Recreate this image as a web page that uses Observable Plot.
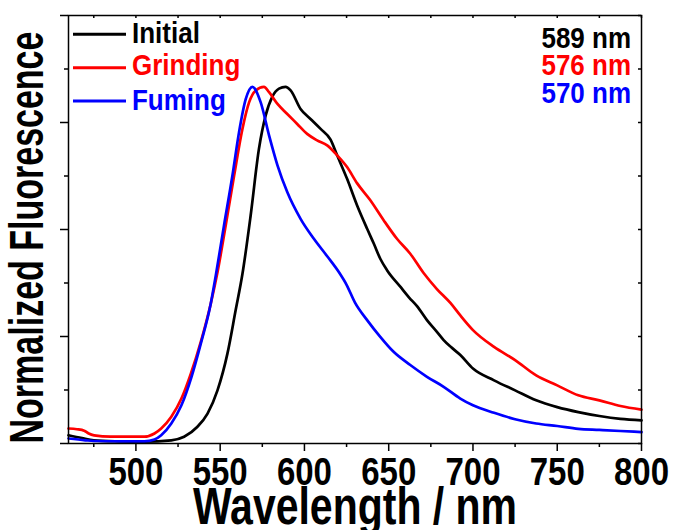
<!DOCTYPE html>
<html><head><meta charset="utf-8">
<script src="https://cdn.jsdelivr.net/npm/d3@7"></script>
<script src="https://cdn.jsdelivr.net/npm/@observablehq/plot@0.6"></script>
<style>body{margin:0;background:#fff}#chart{width:673px;height:530px}</style>
</head><body><div id="chart"></div>
<script>
const initialX = [460,468,475,490,505,521,528.6,536.5,542.5,548.4,554.3,559.2,563.2,568.1,573,577,580.9,584.9,588.8,591.8,597.7,603.6,609.6,615.5,619.4,625.3,631.2,637.2,641.2,645,649,657,662,666.8,672.7,678.6,682.6,686.8,692.5,700,712.5,725,737.5,750,762.5,775,787.5,800];
const initialY = [0.023,0.015,0.009,0.006,0.005,0.009,0.019,0.047,0.084,0.149,0.252,0.374,0.475,0.640,0.826,0.920,0.972,0.995,1.0,0.99,0.938,0.91,0.882,0.852,0.808,0.742,0.668,0.602,0.560,0.518,0.486,0.439,0.41,0.385,0.346,0.313,0.290,0.271,0.248,0.210,0.177,0.149,0.121,0.102,0.088,0.077,0.069,0.065];
const grindingX = [460,465,469.3,472,475.2,485,505,511,515,521,527,532.6,538.5,544.4,548.4,553.3,558.3,563.2,567.2,571.1,576,579,584,589.8,595.7,601.6,607.5,613.5,619.4,625.3,631.2,639.1,647,654.9,662.8,670.7,678.6,686.6,692.5,700,712.5,725,737.5,750,762.5,775,787.5,800];
const grindingY = [0.042,0.040,0.036,0.028,0.023,0.019,0.019,0.028,0.042,0.075,0.126,0.196,0.285,0.392,0.480,0.612,0.752,0.882,0.957,0.99,1.0,0.985,0.952,0.924,0.896,0.868,0.850,0.836,0.808,0.775,0.730,0.682,0.626,0.574,0.532,0.478,0.433,0.394,0.359,0.318,0.271,0.234,0.191,0.163,0.135,0.121,0.105,0.095];
const fumingX = [460,470,475,490,505,511,515,521,527,533,538.5,544.4,547.4,552.3,557.3,561.2,565.2,569.1,574,579,584,589.8,597.7,605.6,613.5,620.5,625,630,637.2,645,652.9,662.8,672.7,682.6,692.5,700,712.5,725,737.5,750,762.5,775,787.5,800];
const fumingY = [0.014,0.009,0.007,0.006,0.006,0.011,0.023,0.056,0.107,0.187,0.28,0.392,0.471,0.612,0.752,0.873,0.966,1.0,0.957,0.864,0.780,0.705,0.630,0.574,0.525,0.48,0.445,0.395,0.346,0.299,0.257,0.220,0.187,0.159,0.126,0.107,0.086,0.068,0.056,0.049,0.041,0.038,0.035,0.032];

const seriesNames = ["Initial", "Grinding", "Fuming"];
const seriesColors = ["#000000", "#ff0000", "#0000ff"];
const peakLabels = ["589 nm", "576 nm", "570 nm"];
const majorXTicks = [500, 550, 600, 650, 700, 750, 800];
const minorXTicks = [475, 525, 575, 625, 675, 725, 775];
const majorYTicks = [0, 0.3, 0.6, 0.9, 1.2];
const minorYTicks = [0.15, 0.45, 0.75, 1.05];

const seriesXs = [initialX, grindingX, fumingX];
const seriesYs = [initialY, grindingY, fumingY];
const rows = [];
seriesNames.forEach((name, i) => {
  seriesXs[i].forEach((x, j) => rows.push({series: name, x, y: seriesYs[i][j]}));
});

const font = '"Liberation Sans", Arial, sans-serif';
const W = 673, H = 530, ML = 68, MR = 32, MT = 15, MB = 87;
const frameW = W - ML - MR, frameH = H - MT - MB;

const plot = Plot.plot({
  width: W, height: H,
  marginLeft: ML, marginRight: MR, marginTop: MT, marginBottom: MB,
  style: {fontFamily: font, background: "#fff", color: "#000"},
  x: {domain: [460, 800]},
  y: {domain: [0, 1.2]},
  color: {domain: seriesNames, range: seriesColors},
  marks: [
    Plot.lineY(rows, {x: "x", y: "y", stroke: "series", z: "series", strokeWidth: 2.7, curve: "monotone-x"}),
    Plot.frame({stroke: "#000", strokeWidth: 1.5}),
    Plot.axisX(majorXTicks, {anchor: "bottom", tickSize: 8, tickPadding: 8, strokeWidth: 1.5, fontSize: 33, fontWeight: "bold", tickFormat: d => String(d), label: null}),
    Plot.axisX(minorXTicks, {anchor: "bottom", tickSize: 4, strokeWidth: 1.5, text: null, label: null}),
    Plot.tickX([...majorXTicks, ...minorXTicks], {x: d => d, insetBottom: frameH - 3, stroke: "#000", strokeWidth: 1.5}),
    Plot.axisY(majorYTicks, {anchor: "left", tickSize: 8, strokeWidth: 1.5, text: null, label: null}),
    Plot.axisY(minorYTicks, {anchor: "left", tickSize: 4, strokeWidth: 1.5, text: null, label: null}),
    Plot.tickY([...majorYTicks, ...minorYTicks], {y: d => d, insetLeft: frameW - 3, stroke: "#000", strokeWidth: 1.5}),
    Plot.text(["Wavelength / nm"], {frameAnchor: "bottom", dy: 64, fontSize: 41, fontWeight: "bold", lineAnchor: "middle", textAnchor: "middle", className: "xtitle"}),
    Plot.text(["Normalized Fluorescence"], {frameAnchor: "left", dx: -41, dy: 8, rotate: -90, fontSize: 34, fontWeight: "bold", textAnchor: "middle", lineAnchor: "middle", className: "ytitle"})
  ]
});

const svg = d3.select(plot);
const leg = svg.append("g").attr("font-family", font).attr("font-weight", "bold").attr("font-size", 26);
const legendTextY = [32.5, 64.5, 99.3];
const legendLineY = [34.3, 67.7, 101];
const peakTextY = [36.7, 64.2, 92.5];
seriesNames.forEach((name, i) => {
  leg.append("line").attr("x1", 73).attr("x2", 126).attr("y1", legendLineY[i]).attr("y2", legendLineY[i])
    .attr("stroke", seriesColors[i]).attr("stroke-width", 3);
  leg.append("text").attr("class", "legtext").attr("x", 132).attr("y", legendTextY[i]).attr("dy", "0.358em")
    .attr("text-anchor", "start").attr("fill", seriesColors[i]).text(name);
  leg.append("text").attr("class", "legtext").attr("x", 631).attr("y", peakTextY[i]).attr("dy", "0.358em")
    .attr("text-anchor", "end").attr("fill", seriesColors[i]).text(peakLabels[i]);
});

document.getElementById("chart").appendChild(plot);

// Stretch glyphs vertically (tall, condensed look of the original typeface)
function stretch(sel, s) {
  sel.each(function() {
    const b = this.getBBox();
    const cy = b.y + b.height / 2;
    const t = this.getAttribute("transform") || "";
    this.setAttribute("transform", `${t} translate(0,${cy * (1 - s)}) scale(1,${s})`);
  });
}
const tickStrings = majorXTicks.map(String);
stretch(svg.selectAll("text").filter(function() {
  return this.childNodes.length === 1 && tickStrings.includes(this.textContent) && !this.closest(".xtitle");
}), 1.17);
stretch(svg.selectAll(".legtext"), 1.17);
stretch(svg.selectAll(".xtitle text"), 1.25);
stretch(svg.selectAll(".ytitle text"), 1.4);
</script>
</body></html>
